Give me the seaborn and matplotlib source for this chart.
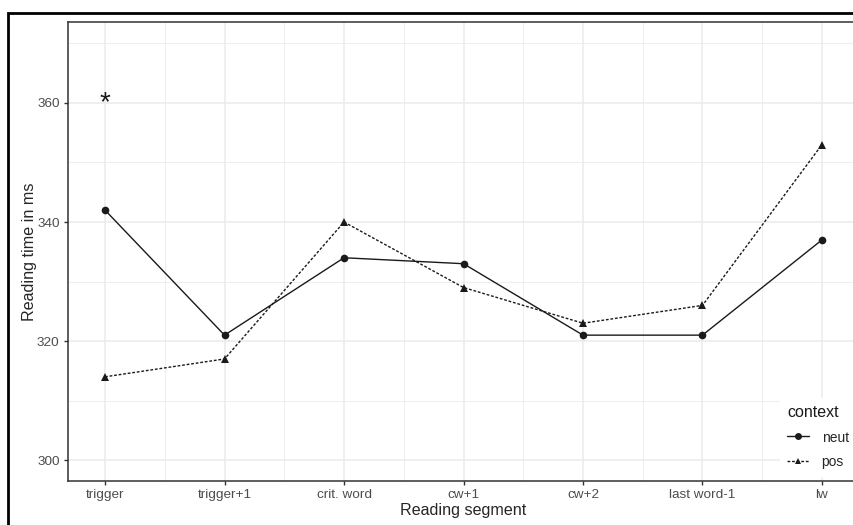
import pandas as pd
import numpy as np
import matplotlib
matplotlib.use('Agg')
import matplotlib.pyplot as plt
import seaborn as sns
from matplotlib.patches import Rectangle
from matplotlib.lines import Line2D
from matplotlib.ticker import MultipleLocator

# data
segments = ['trigger', 'trigger+1', 'crit. word', 'cw+1', 'cw+2', 'last word-1', 'lw']
neut = [342, 321, 334, 333, 321, 321, 337]
pos = [314, 317, 340, 329, 323, 326, 353]
star_y = 360

df = pd.DataFrame({
    'segment': segments * 2,
    'rt': neut + pos,
    'context': ['neut'] * len(segments) + ['pos'] * len(segments),
})

sns.set_style('white')
plt.rcParams['font.family'] = ['Liberation Sans', 'DejaVu Sans']

fig = plt.figure(figsize=(8.54, 5.25), dpi=100)
ax = fig.add_axes([68 / 854, 44 / 525, 791 / 854, 459 / 525])

sns.lineplot(data=df, x='segment', y='rt', hue='context', style='context',
             palette={'neut': '#1a1a1a', 'pos': '#1a1a1a'},
             markers={'neut': 'o', 'pos': '^'},
             dashes={'neut': '', 'pos': (2, 1.3)},
             markersize=5.5, linewidth=1.0, markeredgewidth=0,
             sort=False, ax=ax, legend=False, zorder=3)

ax.text(0, star_y, '*', ha='center', va='center', fontsize=20, color='#1a1a1a')

ax.set_xlim(-0.31, len(segments) - 1 + 0.31)
ax.set_ylim(296.5, 373.6)
ax.set_yticks([300, 320, 340, 360])
ax.yaxis.set_minor_locator(MultipleLocator(10))
ax.set_xticks(range(len(segments)))
ax.set_xticks(np.arange(len(segments) - 1) + 0.5, minor=True)
ax.set_xticklabels(segments)

ax.grid(which='major', color='#ebebeb', linewidth=1.1)
ax.grid(which='minor', color='#ebebeb', linewidth=0.6)
ax.set_axisbelow(True)
for s in ax.spines.values():
    s.set_color('#333333')
    s.set_linewidth(1.1)

ax.tick_params(which='major', length=3, width=1, color='#333333',
               labelcolor='#4d4d4d', labelsize=9.7, pad=3, left=True, bottom=True)
ax.tick_params(which='minor', length=0)
ax.set_xlabel('Reading segment', fontsize=11.6, labelpad=1)
ax.set_ylabel('Reading time in ms', fontsize=11.6, labelpad=0)

# legend
handles = [
    Line2D([], [], color='#1a1a1a', marker='o', markersize=5, linewidth=1, markeredgewidth=0),
    Line2D([], [], color='#1a1a1a', marker='^', markersize=5, linewidth=1,
           linestyle=(0, (2, 1.3)), markeredgewidth=0),
]
leg = ax.legend(handles, ['neut', 'pos'], title='context', loc='lower left',
                bbox_to_anchor=(780 / 854, 49 / 525), bbox_transform=fig.transFigure,
                frameon=True, fontsize=10, title_fontsize=11.5, handlelength=1.6,
                handletextpad=0.9, borderaxespad=0, borderpad=0.5,
                labelspacing=0.75, handleheight=1.0)
leg.get_frame().set_edgecolor('white')
leg.get_frame().set_facecolor('white')
leg.get_frame().set_alpha(1)
leg.get_frame().set_boxstyle('square', pad=0)
leg._legend_box.align = 'left'
leg._legend_title_box.set_offset((0, 3))
leg.get_title().set_color('#1a1a1a')

# outer frame of the screenshot
fig.patches.append(Rectangle((8 / 854, -0.1), 1.0, (525 - 13) / 525 + 0.1,
                             transform=fig.transFigure, fill=False,
                             edgecolor='black', linewidth=2))

fig.savefig('out.png', dpi=100)
